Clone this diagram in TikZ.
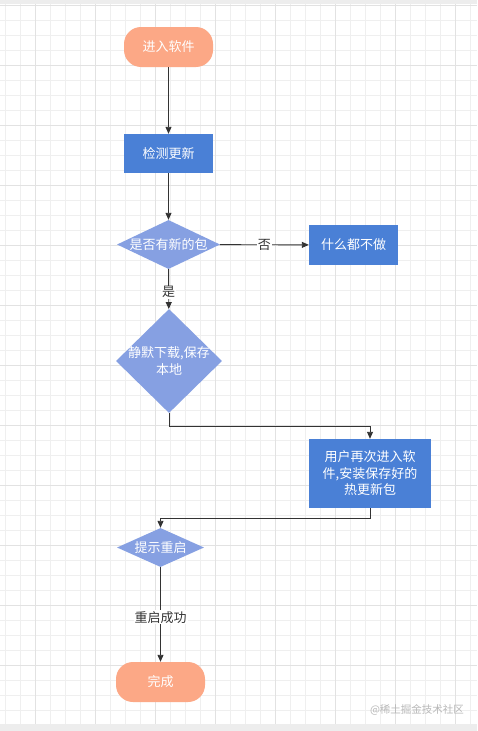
\documentclass[tikz,border=0pt]{standalone}
\usepackage{fontspec}
\newfontfamily\cjk{Noto Sans CJK SC}
\usetikzlibrary{shapes.geometric,arrows.meta}
\definecolor{salmon}{HTML}{FCA886}
\definecolor{bluebox}{HTML}{4A80D6}
\definecolor{dia}{HTML}{86A0E2}
\definecolor{gridminor}{HTML}{EFEFEF}
\definecolor{gridmajor}{HTML}{E2E2E2}
\definecolor{linec}{HTML}{333333}
\definecolor{band}{HTML}{EDEDED}
\definecolor{wm}{HTML}{B8B8B8}
\begin{document}
\begin{tikzpicture}[x=1pt,y=-1pt,
  basefont/.style={font=\cjk\fontsize{13}{16.5}\selectfont},
  term/.style={rectangle, rounded corners=17pt, fill=salmon, minimum width=89pt, minimum height=40pt, inner sep=0pt, text=white, basefont},
  proc/.style={rectangle, fill=bluebox, inner sep=0pt, text=white, basefont, align=center},
  dec/.style={diamond, fill=dia, inner sep=0pt},
  txt/.style={text=white, basefont, align=center, inner sep=0pt},
  arr/.style={draw=linec, line width=0.9pt, -{Triangle[length=7pt,width=6pt]}},
  lbl/.style={fill=white, text=linec, basefont, inner sep=1pt}]
\useasboundingbox (0,0) rectangle (477,731);
\fill[white] (0,0) rectangle (477,731);
% grid
\foreach \gx in {5,20,...,470} \draw[gridminor, line width=0.8pt] (\gx,0) -- (\gx,731);
\foreach \gy in {5,20,...,725} \draw[gridminor, line width=0.8pt] (0,\gy) -- (477,\gy);
\foreach \gx in {35,95,...,455} \draw[gridmajor, line width=0.9pt] (\gx,0) -- (\gx,731);
\foreach \gy in {5,65,...,725} \draw[gridmajor, line width=0.9pt] (0,\gy) -- (477,\gy);
\fill[band] (0,0) rectangle (477,4);
\fill[band] (0,724) rectangle (477,731);
% nodes
\node[term] (a) at (168.5,47) {进入软件};
\node[proc, minimum width=89pt, minimum height=39pt] (b) at (168.5,153.5) {检测更新};
\node[dec, minimum width=103pt, minimum height=49pt] (c) at (168.5,244.5) {};
\node[txt] (ct) at (c.center) {是否有新的包};
\node[proc, minimum width=89pt, minimum height=40pt] (d) at (353.5,245) {什么都不做};
\node[dec, minimum width=106pt, minimum height=104pt] (e) at (169,361) {};
\node[txt] (et) at (169,361) {静默下载,保存\\本地};
\node[proc, minimum width=122pt, minimum height=69pt] (f) at (370,473.5) {用户再次进入软\\件,安装保存好的\\热更新包};
\node[dec, minimum width=87pt, minimum height=39pt] (g) at (160.5,547.5) {};
\node[txt] (gt) at (g.center) {提示重启};
\node[term] (h) at (160.5,682) {完成};
\node[text=wm, font=\cjk\fontsize{10.5}{12}\selectfont, inner sep=0pt] (w) at (417,710) {@稀土掘金技术社区};
% connectors
\draw[arr] (a) -- (b);
\draw[arr] (b) -- (c);
\draw[arr] (c) -- node[lbl] {否} (d);
\draw[arr] (c) -- node[lbl, pos=0.58] {是} (e);
\draw[arr] (e.south) -- ++(0,13) -| (f.north);
\draw[arr] (f.south) -- ++(0,10) -| (g.north);
\draw[arr] (g) -- node[lbl, pos=0.53] {重启成功} (h);
\end{tikzpicture}
\end{document}
